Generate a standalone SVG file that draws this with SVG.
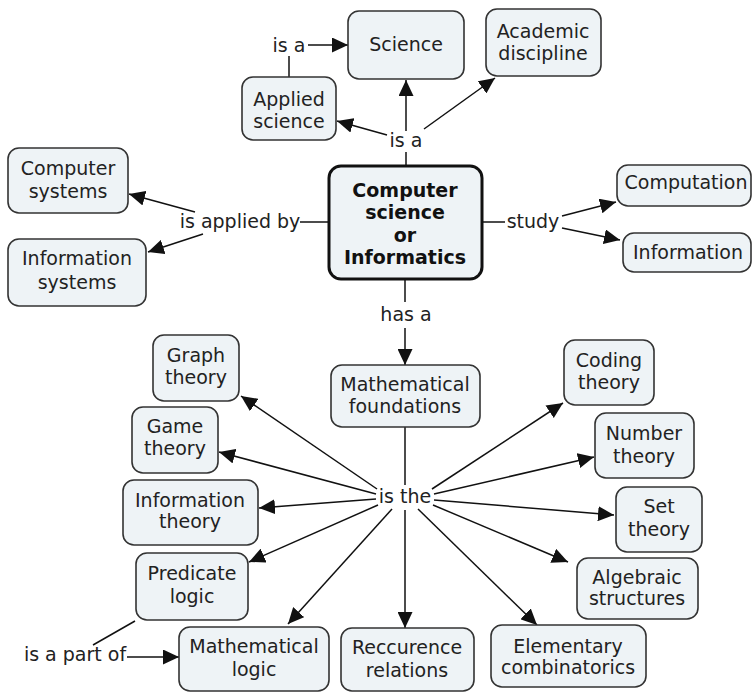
<svg xmlns="http://www.w3.org/2000/svg" width="754" height="693" viewBox="0 0 754 693">
<defs>
<style>
.n rect{fill:#eef3f6;stroke:#333;stroke-width:1.6}
.c rect{fill:#eef3f6;stroke:#111;stroke-width:3}
text{font-family:"DejaVu Sans",Verdana,sans-serif;font-size:19px;fill:#222;text-anchor:middle}
.b{font-weight:bold;fill:#111}
.e line{stroke:#111;stroke-width:1.5;fill:none}
.e line.a{marker-end:url(#ah)}
</style>
<marker id="ah" viewBox="0 0 16 15" refX="16" refY="7.5" markerWidth="16" markerHeight="15" markerUnits="userSpaceOnUse" orient="auto">
<path d="M0,0 L16,7.5 L0,15 z" fill="#111"/>
</marker>
</defs>
<rect width="754" height="693" fill="#fff"/>
<g id="connectors" class="e">
<line x1="406" y1="166" x2="406" y2="152"/>
<line class="a" x1="406" y1="131" x2="406" y2="80"/>
<line class="a" x1="387" y1="135" x2="337" y2="121"/>
<line class="a" x1="424" y1="129" x2="495" y2="78"/>
<line x1="289" y1="77" x2="289" y2="56"/>
<line class="a" x1="308" y1="45" x2="348" y2="45"/>
<line x1="300" y1="222" x2="329" y2="222"/>
<line class="a" x1="195" y1="212" x2="129" y2="194"/>
<line class="a" x1="203" y1="234" x2="148" y2="252"/>
<line x1="482" y1="222" x2="505" y2="222"/>
<line class="a" x1="562" y1="216" x2="616" y2="202"/>
<line class="a" x1="562" y1="228" x2="620" y2="240"/>
<line x1="405" y1="279" x2="405" y2="302"/>
<line class="a" x1="405" y1="328" x2="405" y2="365"/>
<line x1="405" y1="427" x2="405" y2="485"/>
<line class="a" x1="377" y1="489" x2="241" y2="396"/>
<line class="a" x1="376" y1="494" x2="219" y2="452"/>
<line class="a" x1="376" y1="499" x2="259" y2="508"/>
<line class="a" x1="378" y1="505" x2="249" y2="562"/>
<line class="a" x1="392" y1="509" x2="288" y2="624"/>
<line class="a" x1="405" y1="510" x2="405" y2="628"/>
<line class="a" x1="418" y1="509" x2="537" y2="625"/>
<line class="a" x1="433" y1="505" x2="568" y2="562"/>
<line class="a" x1="434" y1="500" x2="614" y2="515"/>
<line class="a" x1="434" y1="494" x2="594" y2="457"/>
<line class="a" x1="432" y1="489" x2="563" y2="403"/>
<line x1="135" y1="621" x2="93" y2="645"/>
<line class="a" x1="127" y1="657" x2="179" y2="657"/>
</g>
<g id="labels">
<text x="289" y="52">is a</text>
<text x="406" y="147">is a</text>
<text x="240" y="228">is applied by</text>
<text x="533" y="228">study</text>
<text x="406" y="321">has a</text>
<text x="405" y="503">is the</text>
<text x="75" y="661">is a part of</text>
</g>
<g id="n-science" class="n"><rect x="348" y="11" width="116" height="68" rx="11"/><text x="406" y="51">Science</text></g>
<g id="n-academic" class="n"><rect x="486" y="9" width="115" height="67" rx="11"/><text x="543" y="38">Academic</text><text x="543" y="60">discipline</text></g>
<g id="n-applied" class="n"><rect x="242" y="77" width="94" height="63" rx="11"/><text x="289" y="106">Applied</text><text x="289" y="128">science</text></g>
<g id="n-compsys" class="n"><rect x="8" y="148" width="120" height="65" rx="11"/><text x="68" y="175">Computer</text><text x="68" y="198">systems</text></g>
<g id="n-infosys" class="n"><rect x="8" y="239" width="138" height="67" rx="11"/><text x="77" y="265">Information</text><text x="77" y="289">systems</text></g>
<g id="n-cs" class="c"><rect x="329" y="166" width="153" height="113" rx="12"/><text class="b" x="405" y="197">Computer</text><text class="b" x="405" y="219">science</text><text class="b" x="405" y="242">or</text><text class="b" x="405" y="264">Informatics</text></g>
<g id="n-computation" class="n"><rect x="617" y="165" width="134" height="41" rx="11"/><text x="686" y="189">Computation</text></g>
<g id="n-information" class="n"><rect x="623" y="233" width="128" height="39" rx="11"/><text x="688" y="259">Information</text></g>
<g id="n-mathfound" class="n"><rect x="331" y="365" width="149" height="62" rx="11"/><text x="405" y="391">Mathematical</text><text x="405" y="413">foundations</text></g>
<g id="n-graph" class="n"><rect x="153" y="335" width="86" height="66" rx="11"/><text x="196" y="362">Graph</text><text x="196" y="384">theory</text></g>
<g id="n-game" class="n"><rect x="132" y="407" width="86" height="66" rx="11"/><text x="175" y="433">Game</text><text x="175" y="455">theory</text></g>
<g id="n-infotheory" class="n"><rect x="123" y="480" width="135" height="65" rx="11"/><text x="190" y="507">Information</text><text x="190" y="528">theory</text></g>
<g id="n-predicate" class="n"><rect x="136" y="553" width="112" height="67" rx="11"/><text x="192" y="580">Predicate</text><text x="192" y="603">logic</text></g>
<g id="n-mathlogic" class="n"><rect x="179" y="627" width="150" height="64" rx="11"/><text x="254" y="653">Mathematical</text><text x="254" y="676">logic</text></g>
<g id="n-reccurence" class="n"><rect x="341" y="628" width="133" height="63" rx="11"/><text x="407" y="654">Reccurence</text><text x="407" y="677">relations</text></g>
<g id="n-elementary" class="n"><rect x="491" y="625" width="155" height="62" rx="11"/><text x="568" y="653">Elementary</text><text x="568" y="674">combinatorics</text></g>
<g id="n-coding" class="n"><rect x="564" y="340" width="90" height="65" rx="11"/><text x="609" y="367">Coding</text><text x="609" y="389">theory</text></g>
<g id="n-number" class="n"><rect x="595" y="413" width="99" height="65" rx="11"/><text x="644" y="440">Number</text><text x="644" y="463">theory</text></g>
<g id="n-set" class="n"><rect x="616" y="487" width="86" height="65" rx="11"/><text x="659" y="513">Set</text><text x="659" y="536">theory</text></g>
<g id="n-algebraic" class="n"><rect x="577" y="558" width="121" height="61" rx="11"/><text x="637" y="584">Algebraic</text><text x="637" y="605">structures</text></g>
</svg>
